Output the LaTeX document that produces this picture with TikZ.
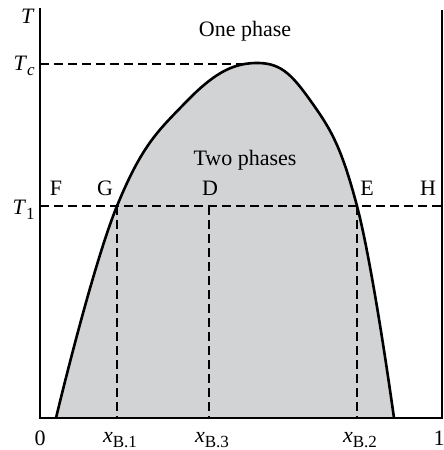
\documentclass[tikz,border=0pt]{standalone}
\usepackage{fontspec}
\setmainfont{Liberation Serif}
\usepackage{xcolor}
\usetikzlibrary{positioning,calc}

\definecolor{phasegray}{HTML}{D1D3D4}
\newcommand{\sub}[1]{\raisebox{-0.45ex}{\fontsize{8.5}{9}\selectfont #1}}

\begin{document}
\begin{tikzpicture}[
  x=0.5pt,y=-0.5pt,
  axis/.style={line width=0.6pt},
  curve/.style={line width=1.3pt},
  guide/.style={line width=0.6pt,dash pattern=on 4.5pt off 2.5pt},
  lbl/.style={inner sep=1pt},
  font=\fontsize{11}{12}\selectfont
]
\useasboundingbox (0,0) rectangle (444,450);
% coordinates on the axes and on the curve
\coordinate (top) at (40,8);
\coordinate (o) at (40,418);
\coordinate (xend) at (442,418);
\coordinate (rtop) at (442,10);
\coordinate (tc) at (40,64);
\coordinate (t1) at (40,206);
\coordinate (t1r) at (442,206);
\coordinate (crit) at (245,64);
\coordinate (g) at (117,206);
\coordinate (d) at (209,206);
\coordinate (e) at (357,206);
\coordinate (gb) at (117,418);
\coordinate (db) at (209,418);
\coordinate (eb) at (357,418);
% two-phase region
\fill[phasegray] plot[smooth,tension=0.7] coordinates {(56,418) (117,206) (185,103) (255,63) (310,100) (357,206) (394,418)} -- cycle;
\draw[curve] plot[smooth,tension=0.7] coordinates {(56,418) (117,206) (185,103) (255,63) (310,100) (357,206) (394,418)};
% axes
\draw[axis] (top) -- (o) -- (xend) -- (rtop);
% tie lines
\draw[guide] (tc) -- (crit);
\draw[guide] (t1) -- (t1r);
\foreach \p in {g,d,e}
  \draw[guide] (\p) -- (\p b);
% labels
\node[lbl,anchor=east] (labT) at (37,16) {\textit{T}};
\node[lbl,anchor=east] (labTc) at (37,66) {\textit{T}\sub{\textit{c}}};
\node[lbl,anchor=east] (labT1) at (37,210) {\textit{T}\sub{1}};
\node[lbl] (lab0) at (40,438) {0};
\node[lbl] (lab1) at (439,438) {1};
\node[lbl] (labx1) at (120,440) {\textit{x}\sub{B.1}};
\node[lbl] (labx3) at (212,440) {\textit{x}\sub{B.3}};
\node[lbl] (labx2) at (360,440) {\textit{x}\sub{B.2}};
\node[lbl] (labF) at (56,188) {F};
\node[lbl] (labG) at (105,188) {G};
\node[lbl] (labD) at (210,188) {D};
\node[lbl] (labE) at (367,188) {E};
\node[lbl] (labH) at (428,188) {H};
\node[lbl] (one) at (245,31) {One phase};
\node[lbl] (two) at (245,160) {Two phases};
\end{tikzpicture}
\end{document}
